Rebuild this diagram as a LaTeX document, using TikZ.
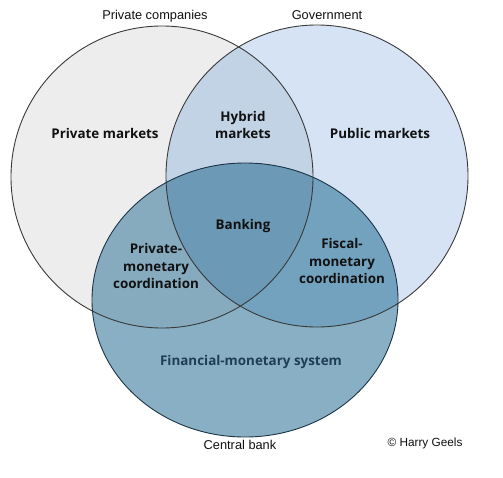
\documentclass[tikz,border=0pt]{standalone}
\usepackage{fontspec}
\setmainfont{Liberation Sans}
\newfontfamily\lblfont{Open Sans}
\definecolor{cPriv}{HTML}{EDEDED}
\definecolor{cGov}{HTML}{D5E3F4}
\definecolor{cHyb}{HTML}{C2D3E6}
\definecolor{cCB}{HTML}{88AFC3}
\definecolor{cPCB}{HTML}{86ABBF}
\definecolor{cGCB}{HTML}{73A2BF}
\definecolor{cAll}{HTML}{6C99B6}
\definecolor{cLine}{HTML}{3A3A3A}
\definecolor{cCBLine}{HTML}{1E3547}
\definecolor{cTxt}{HTML}{111111}
\definecolor{cFin}{HTML}{1F3D55}
\tikzset{
  lbl/.style={font=\lblfont\bfseries\fontsize{13.4}{17.5}\selectfont, text=cTxt, align=center, inner sep=0pt},
  plain/.style={font=\fontsize{12.8}{15}\selectfont, text=cTxt, inner sep=0pt},
}
\begin{document}
\begin{tikzpicture}[x=1pt,y=-1pt]
\useasboundingbox (0,0) rectangle (503,477);
\fill[white] (0,0) rectangle (503,477);
\def\pathP{(162,177) circle[radius=151]}
\def\pathG{(317,176) circle[radius=151]}
\def\pathC{(245,300) ellipse[x radius=153, y radius=137]}
\fill[cPriv] \pathP;
\fill[cGov] \pathG;
\begin{scope}\clip \pathP; \fill[cHyb] \pathG; \end{scope}
\fill[cCB] \pathC;
\begin{scope}\clip \pathP; \fill[cPCB] \pathC; \end{scope}
\begin{scope}\clip \pathG; \fill[cGCB] \pathC; \end{scope}
\begin{scope}\clip \pathP; \clip \pathG; \fill[cAll] \pathC; \end{scope}
\draw[cLine, line width=0.9pt] \pathP;
\draw[cLine, line width=0.9pt] \pathG;
\draw[cCBLine, line width=0.9pt] \pathC;

\node[plain] (tp) at (155,16) {Private companies};
\node[plain] (tg) at (327,15) {Government};
\node[plain] (tc) at (240,445) {Central bank};
\node[plain] (th) at (425,443) {\fontsize{11.8}{14}\selectfont\textcopyright{} Harry Geels};

\node[lbl] (pm) at (105,133) {Private markets};
\node[lbl] (hm) at (243,125) {Hybrid\\markets};
\node[lbl] (pub) at (380,133) {Public markets};
\node[lbl] (bk) at (243,226) {Banking};
\node[lbl] (pmc) at (156,266) {Private-\\monetary\\coordination};
\node[lbl] (fmc) at (342,261) {Fiscal-\\monetary\\coordination};
\node[lbl, text=cFin] (fms) at (251,362) {Financial-monetary system};
\end{tikzpicture}
\end{document}
